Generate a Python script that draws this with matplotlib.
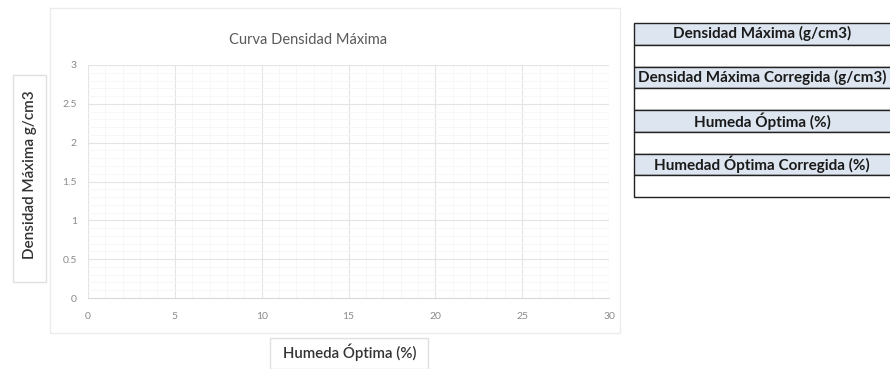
import matplotlib.pyplot as plt
from matplotlib.patches import Rectangle
import numpy as np

# data (the chart is empty in the reference)
humedad = []
densidad = []
x_ticks = [0, 5, 10, 15, 20, 25, 30]
y_ticks = [0, 0.5, 1, 1.5, 2, 2.5, 3]
table_rows = [
    "Densidad Máxima (g/cm3)",
    "",
    "Densidad Máxima Corregida (g/cm3)",
    "",
    "Humeda Óptima (%)",
    "",
    "Humedad Óptima Corregida (%)",
    "",
]

plt.rcParams["font.family"] = ["Lato", "DejaVu Sans"]

W, H = 890, 369
fig = plt.figure(figsize=(W / 100, H / 100), dpi=100)


def px(x0, y0, x1, y1):
    # pixel box -> figure fraction rect
    return [x0 / W, 1 - y1 / H, (x1 - x0) / W, (y1 - y0) / H]


# chart area frame
fig.patches.append(Rectangle((50 / W, 1 - 333 / H), 570 / W, 325 / H,
                             transform=fig.transFigure, fill=False,
                             edgecolor="#ececec", lw=1))

ax = fig.add_axes(px(88, 65, 609, 298))
ax.plot(humedad, densidad, color="#4472c4")
ax.set_xlim(0, 30)
ax.set_ylim(0, 3)
ax.set_xticks(x_ticks)
ax.set_yticks(y_ticks)
ax.set_xticklabels([str(t) for t in x_ticks])
ax.set_yticklabels([f"{t:g}" for t in y_ticks])
ax.set_xticks(np.arange(0, 31, 1), minor=True)
ax.set_yticks(np.arange(0, 3.01, 0.1), minor=True)
ax.grid(True, which="major", color="#e4e4e4", lw=0.8)
ax.grid(True, which="minor", color="#f6f6f6", lw=0.6)
ax.set_axisbelow(True)
for s in ["top", "right", "left"]:
    ax.spines[s].set_visible(False)
ax.spines["bottom"].set_color("#d9d9d9")
ax.tick_params(which="both", length=0, labelsize=7.5, colors="#8a8a8a")
ax.tick_params(axis="x", pad=10)
ax.tick_params(axis="y", pad=8)

fig.text(308 / W, 1 - 40 / H, "Curva Densidad Máxima", ha="center", va="center",
         fontsize=10.5, color="#595959")

# y label box
fig.patches.append(Rectangle((13 / W, 1 - 282 / H), 33 / W, 207 / H,
                             transform=fig.transFigure, fill=False,
                             edgecolor="#e0e0e0", lw=1))
fig.text(30 / W, 1 - 175 / H, "Densidad Máxima g/cm3", rotation=90,
         ha="center", va="center", fontsize=11, fontweight="semibold",
         color="#333333")

# x label box
fig.patches.append(Rectangle((270 / W, 0), 158 / W, 31 / H,
                             transform=fig.transFigure, fill=False,
                             edgecolor="#e0e0e0", lw=1))
fig.text(350 / W, 1 - 352 / H, "Humeda Óptima (%)", ha="center", va="center",
         fontsize=10.8, fontweight="semibold", color="#333333")

# side table
tax = fig.add_axes(px(634, 23, 900, 197))
tax.set_xlim(0, 1)
tax.set_ylim(len(table_rows), 0)
tax.axis("off")
for i, label in enumerate(table_rows):
    fc = "#dde6f0" if label else "white"
    tax.add_patch(Rectangle((0, i), 1, 1, facecolor=fc, edgecolor="#222222",
                            lw=1.0, clip_on=False))
    if label:
        tax.text(256 / 266 / 2, i + 0.5, label, ha="center", va="center",
                 fontsize=11, fontweight="bold", color="#1a1a1a")

fig.savefig("out.png", dpi=100)
